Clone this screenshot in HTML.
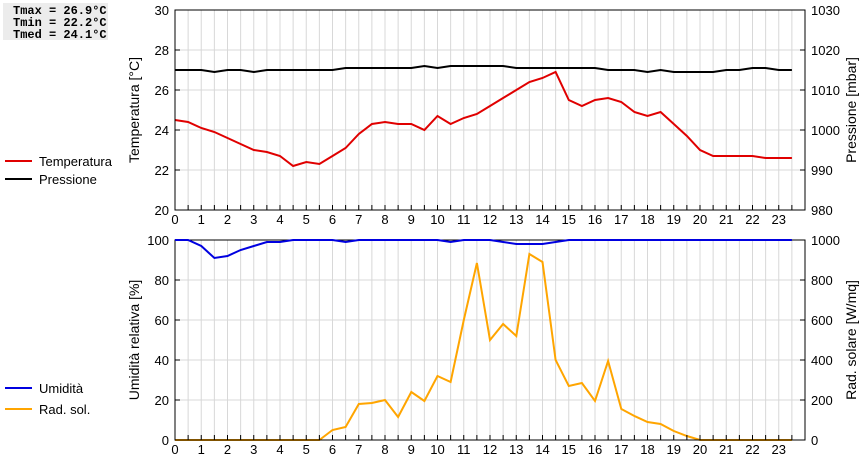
<!DOCTYPE html>
<html><head><meta charset="utf-8">
<style>
body{margin:0;background:#fff;width:860px;height:460px;overflow:hidden;font-family:"Liberation Sans",sans-serif;}
svg text{font-family:"Liberation Sans",sans-serif;font-size:13px;fill:#000;}
#stats{position:absolute;left:3px;top:3px;width:105px;height:37px;background:#ececec;font-family:"Liberation Mono",monospace;font-weight:bold;font-size:12px;line-height:12px;padding:2px 0 0 10px;box-sizing:border-box;white-space:nowrap;}
</style></head><body>
<div id="stats">Tmax = 26.9°C<br>Tmin = 22.2°C<br>Tmed = 24.1°C</div>
<svg id="chart" width="860" height="460" style="position:absolute;left:0;top:0"></svg>
<script>
const hours=[0,1,2,3,4,5,6,7,8,9,10,11,12,13,14,15,16,17,18,19,20,21,22,23];
const temperature=[24.5,24.4,24.1,23.9,23.6,23.3,23.0,22.9,22.7,22.2,22.4,22.3,22.7,23.1,23.8,24.3,24.4,24.3,24.3,24.0,24.7,24.3,24.6,24.8,25.2,25.6,26.0,26.4,26.6,26.9,25.5,25.2,25.5,25.6,25.4,24.9,24.7,24.9,24.3,23.7,23.0,22.7,22.7,22.7,22.7,22.6,22.6,22.6];
const pressure=[1015,1015,1015,1014.5,1015,1015,1014.5,1015,1015,1015,1015,1015,1015,1015.5,1015.5,1015.5,1015.5,1015.5,1015.5,1016,1015.5,1016,1016,1016,1016,1016,1015.5,1015.5,1015.5,1015.5,1015.5,1015.5,1015.5,1015,1015,1015,1014.5,1015,1014.5,1014.5,1014.5,1014.5,1015,1015,1015.5,1015.5,1015,1015];
const humidity=[100,100,97,91,92,95,97,99,99,100,100,100,100,99,100,100,100,100,100,100,100,99,100,100,100,99,98,98,98,99,100,100,100,100,100,100,100,100,100,100,100,100,100,100,100,100,100,100];
const solar=[0,0,0,0,0,0,0,0,0,0,0,0,50,65,180,185,200,115,240,195,320,290,600,885,500,580,520,930,890,400,270,285,195,395,155,120,90,80,45,20,0,0,0,0,0,0,0,0];
const tempTicks=[20,22,24,26,28,30], presTicks=[980,990,1000,1010,1020,1030];
const humTicks=[0,20,40,60,80,100], solTicks=[0,200,400,600,800,1000];

const svg=document.getElementById('chart');const NS='http://www.w3.org/2000/svg';
function el(t,a,p){const e=document.createElementNS(NS,t);for(const k in a)e.setAttribute(k,a[k]);(p||svg).appendChild(e);return e;}
const X0=175,X1=805;
const xs=h=>X0+h*(X1-X0)/24;
function panel(top,bot,lTicks,lMin,lMax,rTicks,rMin,rMax,lTitle,rTitle,name){
  const ly=v=>bot-(v-lMin)/(lMax-lMin)*(bot-top);
  const ry=v=>bot-(v-rMin)/(rMax-rMin)*(bot-top);
  for(let i=1;i<48;i++){const g=el('line',{x1:xs(i/2),x2:xs(i/2),y1:top,y2:bot,stroke:'#d8d8d8'});
    }
  lTicks.forEach(v=>{const g=el('line',{x1:X0,x2:X1,y1:ly(v),y2:ly(v),stroke:'#d8d8d8'});
    
    const t=el('text',{x:X0-6,y:ly(v)+5,'text-anchor':'end'});t.textContent=v;
    });
  rTicks.forEach(v=>{const t=el('text',{x:X1+6,y:ry(v)+5});t.textContent=v;
    });
  hours.forEach(h=>{const t=el('text',{x:xs(h),y:bot+14,'text-anchor':'middle'});t.textContent=h;
    });
  const a=el('text',{transform:`translate(139,${(top+bot)/2}) rotate(-90)`,'text-anchor':'middle'});a.textContent=lTitle;a.style.fontSize='14px';
  
  const b=el('text',{transform:`translate(856,${(top+bot)/2}) rotate(-90)`,'text-anchor':'middle'});b.textContent=rTitle;b.style.fontSize='14px';
  
  return {ly,ry,top,bot,lTicks,rTicks,name};
}
function frame(p){
  p.lTicks.forEach(v=>el('line',{x1:X0,x2:X0+5,y1:p.ly(v),y2:p.ly(v),stroke:'#000'}));
  p.rTicks.forEach(v=>el('line',{x1:X1-5,x2:X1,y1:p.ry(v),y2:p.ry(v),stroke:'#000'}));
  for(let i=1;i<48;i++) el('line',{x1:xs(i/2),x2:xs(i/2),y1:p.bot-5,y2:p.bot,stroke:'#000'});
  const r=el('rect',{x:X0,y:p.top,width:X1-X0,height:p.bot-p.top,fill:'none',stroke:'#000'});
  
}
function series(vals,yf,color,name){
  const pts=vals.map((v,i)=>xs(i/2).toFixed(1)+','+yf(v).toFixed(1)).join(' ');
  const p=el('polyline',{points:pts,fill:'none',stroke:color,'stroke-width':2});
  
}
function legend(y,color,label,name){
  el('line',{x1:5,x2:32,y1:y,y2:y,stroke:color,'stroke-width':2});
  const t=el('text',{x:39,y:y+5});t.textContent=label;
  
}
const p1=panel(10,210,tempTicks,20,30,presTicks,980,1030,'Temperatura [°C]','Pressione [mbar]','top-chart');
series(pressure,p1.ry,'#000','pressure-line');
series(temperature,p1.ly,'#e00000','temperature-line');
frame(p1);
const p2=panel(240,440,humTicks,0,100,solTicks,0,1000,'Umidità relativa [%]','Rad. solare [W/mq]','bottom-chart');
series(solar,p2.ry,'#ffa500','solar-radiation-line');
frame(p2);
series(humidity,p2.ly,'#0000e0','humidity-line');
legend(161,'#e00000','Temperatura','legend-temperatura');
legend(179,'#000','Pressione','legend-pressione');
legend(388,'#0000e0','Umidità','legend-umidita');
legend(409,'#ffa500','Rad. sol.','legend-rad-sol');
</script>
</body></html>
